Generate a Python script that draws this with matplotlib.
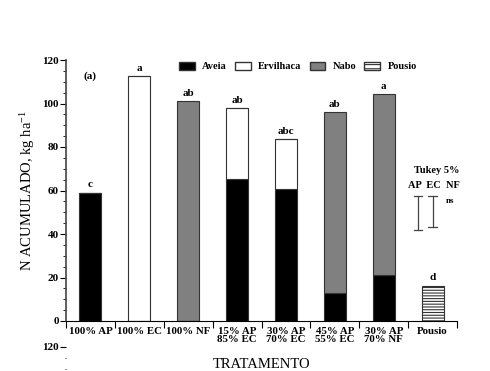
import matplotlib
matplotlib.use('Agg')
import matplotlib.pyplot as plt
import numpy as np
from matplotlib.patches import Patch

plt.rcParams['font.family'] = ['Liberation Serif', 'DejaVu Serif']
plt.rcParams['mathtext.fontset'] = 'stix'
plt.rcParams['hatch.linewidth'] = 0.8

tratamentos = ['100% AP', '100% EC', '100% NF', '15% AP\n85% EC', '30% AP\n70% EC',
               '45% AP\n55% EC', '30% AP\n70% NF', 'Pousio']
aveia = [59, 0, 0, 65.3, 60.7, 12.9, 21.1, 0]
ervilhaca = [0, 112.6, 0, 32.7, 23.0, 0, 0, 0]
nabo = [0, 0, 101.1, 0, 0, 83.1, 83.3, 0]
pousio = [0, 0, 0, 0, 0, 0, 0, 16.3]
letras = ['c', 'a', 'ab', 'ab', 'abc', 'ab', 'a', 'd']

# tukey 5% bars (bottom, top)
tukey_x = [6.70, 7.0]
tukey_low = [41.8, 43.2]
tukey_high = [57.5, 57.5]

fig = plt.figure(figsize=(4.9, 3.71), dpi=100)
ax = fig.add_axes([66/490, 50/371, 391/490, 261/371])

x = np.arange(len(tratamentos))
w = 0.45
edge = '#333333'
aveia = np.array(aveia)
ervilhaca = np.array(ervilhaca)
nabo = np.array(nabo)
pousio = np.array(pousio)

ax.bar(x, aveia, w, color='black', edgecolor=edge, lw=0.8)
ax.bar(x, ervilhaca, w, bottom=aveia, color='white', edgecolor=edge, lw=0.8)
ax.bar(x, nabo, w, bottom=aveia + ervilhaca, color='#808080', edgecolor=edge, lw=0.8)
ax.bar(x, pousio, w, color='white', edgecolor=edge, hatch='------', lw=0.8)

total = aveia + ervilhaca + nabo + pousio
for xi, t, l in zip(x, total, letras):
    ax.text(xi, t + 1.5, l, ha='center', va='bottom', fontsize=8, fontweight='bold')

for xt, lo, hi in zip(tukey_x, tukey_low, tukey_high):
    ax.plot([xt, xt], [lo, hi], color='#444444', lw=0.9)
    ax.plot([xt - 0.09, xt + 0.09], [lo, lo], color='#444444', lw=0.9)
    ax.plot([xt - 0.09, xt + 0.09], [hi, hi], color='#444444', lw=0.9)
ax.text(7.09, 69, 'Tukey 5%', ha='center', va='center', fontsize=7.5, fontweight='bold')
ax.text(7.03, 62.5, 'AP  EC  NF', ha='center', va='center', fontsize=7.5, fontweight='bold')
ax.text(7.35, 55, 'ns', ha='center', va='center', fontsize=6.5, fontweight='bold')

ax.text(0.0, 112.5, '(a)', ha='center', va='center', fontsize=8, fontweight='bold')

ax.set_xlim(-0.5, 7.5)
ax.set_ylim(0, 120)
ax.spines['top'].set_visible(False)
ax.spines['right'].set_visible(False)
ax.spines['left'].set_color('#444444')
ax.spines['bottom'].set_color('black')
ax.spines['left'].set_linewidth(1.2)

ax.set_yticks(np.arange(0, 121, 20))
ax.set_yticks(np.arange(0, 121, 5), minor=True)
ax.tick_params(axis='y', which='major', length=4, labelsize=8, pad=1)
ax.tick_params(axis='y', which='minor', length=2.5)
for lab in ax.get_yticklabels():
    lab.set_fontweight('bold')

ax.set_xticks(np.arange(-0.5, 8, 1))
ax.set_xticklabels([])
ax.set_xticks(x, minor=True)
ax.set_xticklabels(tratamentos, minor=True, fontsize=7.8, fontweight='bold', linespacing=0.95)
ax.tick_params(axis='x', which='major', length=5)
ax.tick_params(axis='x', which='minor', length=0, pad=4)

ax.set_ylabel('N ACUMULADO, kg ha$^{\\mathregular{-1}}$', fontsize=10.5, labelpad=4)
ax.set_xlabel('TRATAMENTO', fontsize=10.5, labelpad=10)

handles = [Patch(facecolor='black', edgecolor=edge, label='Aveia'),
           Patch(facecolor='white', edgecolor=edge, label='Ervilhaca'),
           Patch(facecolor='#808080', edgecolor=edge, label='Nabo'),
           Patch(facecolor='white', edgecolor=edge, hatch='----', label='Pousio')]
leg = ax.legend(handles=handles, ncol=4, loc='upper left', bbox_to_anchor=(0.265, 1.03),
                frameon=False, prop={'size': 7.5, 'weight': 'bold'}, handlelength=1.5,
                handleheight=0.8, columnspacing=0.8, handletextpad=0.7)

# cropped piece of the panel below
ax2 = fig.add_axes([66/490, (24 - 261)/371, 0.0001, 261/371])
ax2.set_ylim(0, 120)
ax2.set_xticks([])
for s in ax2.spines.values():
    s.set_visible(False)
ax2.set_yticks([120])
ax2.set_yticks(np.arange(0, 121, 5), minor=True)
ax2.tick_params(axis='y', which='major', length=4, labelsize=8, pad=1)
ax2.tick_params(axis='y', which='minor', length=1)
for lab in ax2.get_yticklabels():
    lab.set_fontweight('bold')

fig.savefig('out.png', dpi=100)
